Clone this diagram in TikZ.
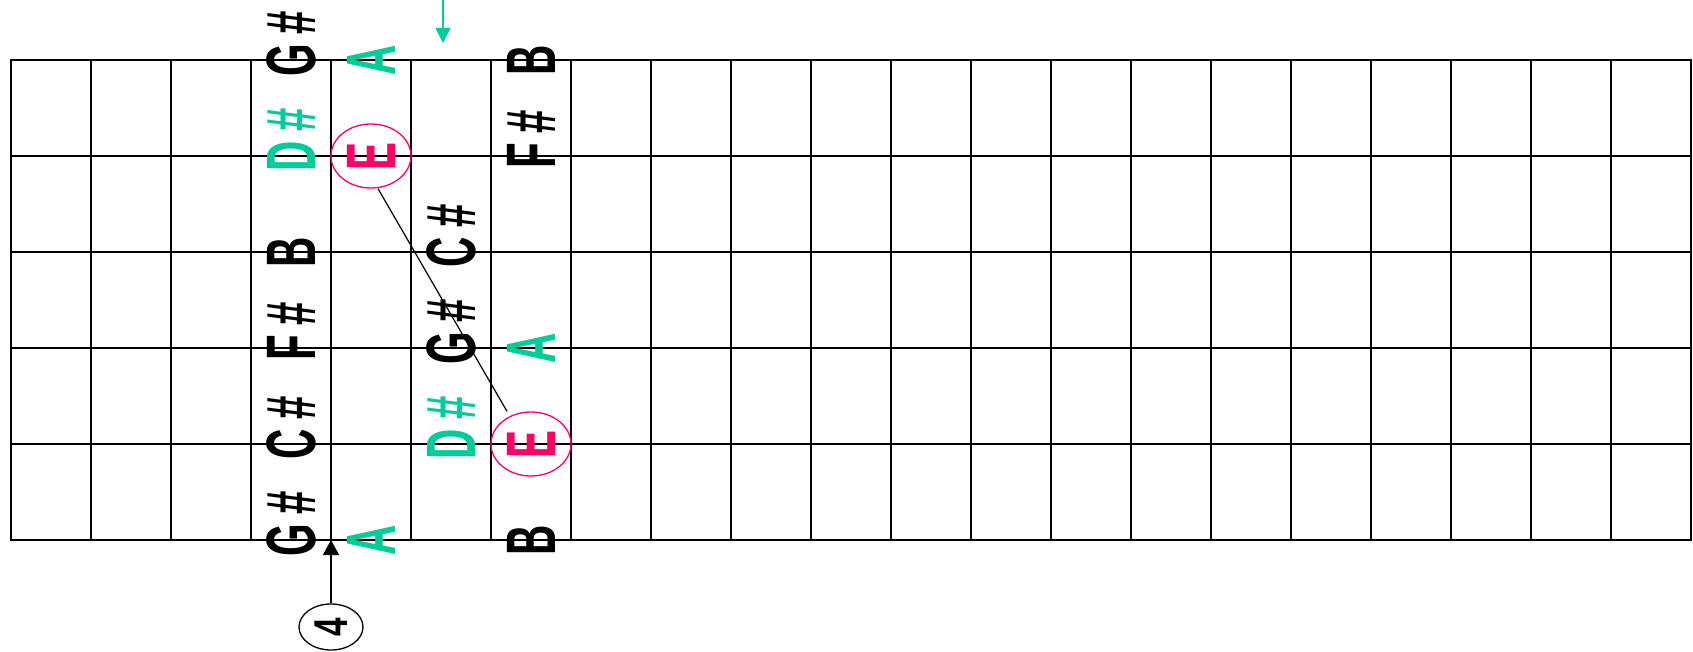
\documentclass[tikz,border=0pt]{standalone}
\usepackage{fontspec}
\usetikzlibrary{arrows.meta,shapes.geometric}
\newfontfamily\notefont{Liberation Sans}
\definecolor{scaleteal}{HTML}{00CC99}
\definecolor{rootpink}{HTML}{FF0066}
\newcommand{\squeeze}[1]{\scalebox{0.6}[1]{#1}}
\newcommand{\shp}{\rlap{\hspace{0.22em}\#}}
\tikzset{
  fret/.style={line width=2pt},
  note/.style={rotate=90, inner sep=0pt, font=\notefont\bfseries\fontsize{70}{70}\selectfont},
  ring/.style={draw=rootpink, line width=1.3pt, ellipse, minimum width=80pt, minimum height=64pt, inner sep=0pt},
  link/.style={line width=1.2pt},
  cue/.style={-{Triangle[length=15pt,width=15pt]}, line width=1.6pt, scaleteal},
  pointer/.style={-{Triangle[length=15pt,width=16pt]}, line width=1.3pt},
  finger/.style={draw, line width=1.3pt, ellipse, rotate=90, minimum width=46pt, minimum height=64pt,
                 inner sep=1pt, font=\notefont\bfseries\fontsize{47.5}{48}\selectfont},
}
\begin{document}
\begin{tikzpicture}[x=1pt, y=-1pt]
  \useasboundingbox (0,0) rectangle (1693,652);
  \foreach \i in {0,...,21} \draw[fret] (11+80*\i,59) -- (11+80*\i,541);
  \foreach \j in {0,...,5} \draw[fret] (10,60+96*\j) -- (1692,60+96*\j);
  \foreach \x/\y/\t/\c [count=\k] in {
      291/60/G\shp/black, 291/156/D\shp/scaleteal, 291/252/B/black,
      291/348/F\shp/black, 291/444/C\shp/black, 291/540/G\shp/black,
      371/60/A/scaleteal, 371/156/E/rootpink, 371/540/A/scaleteal,
      451/252/C\shp/black, 451/348/G\shp/black, 451/444/D\shp/scaleteal,
      531/60/B/black, 531/156/F\shp/black, 531/348/A/scaleteal,
      531/444/E/rootpink, 531/540/B/black}
    \node[note, text=\c] (n\k) at (\x,\y) {\squeeze{\t}};
  \node[ring] (root1) at (371,156) {};
  \node[ring] (root2) at (531,444) {};
  \draw[link] ([xshift=7pt]root1.south) -- ([xshift=-24pt]root2.north);
  \coordinate (cuestart) at (443,0);
  \coordinate (cuetip) at (443,43);
  \draw[cue] (cuestart) -- (cuetip);
  \node[finger] (fing) at (331,627) {\scalebox{0.7}[1]{4}};
  \coordinate (fingtip) at (331,540);
  \draw[pointer] (fing) -- (fingtip);
\end{tikzpicture}
\end{document}
